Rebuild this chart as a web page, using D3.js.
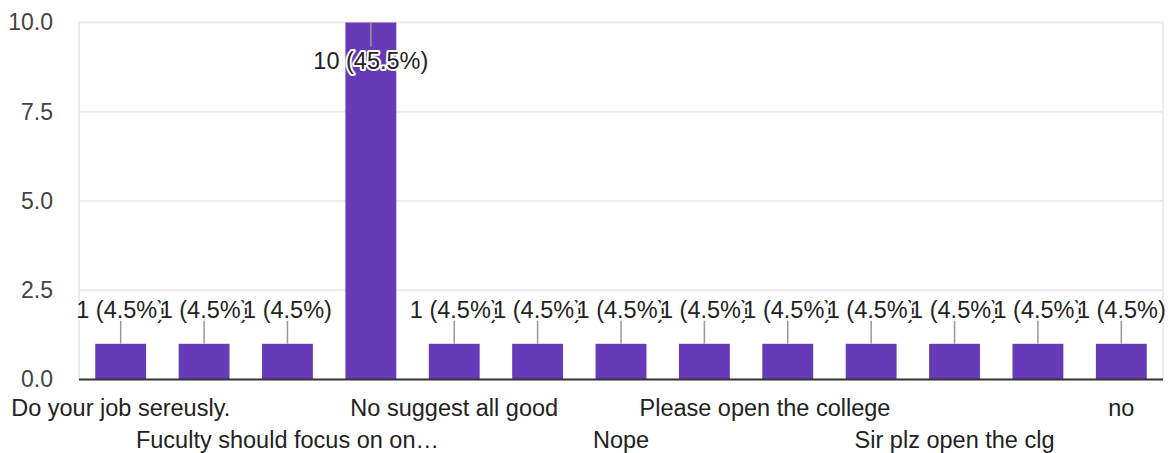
<!DOCTYPE html>
<html>
<head>
<meta charset="utf-8">
<script src="https://cdn.jsdelivr.net/npm/d3@7"></script>
<style>
  html, body { margin: 0; padding: 0; background: #fff; }
  svg text { font-family: "Liberation Sans", Arial, sans-serif; white-space: pre; }
</style>
</head>
<body>
<svg id="chart" width="1172" height="453"></svg>
<script>
// ---- data ----
const categories = [
  "Do your job sereusly.",
  "Good",
  "Fuculty should focus on on\u2026",
  "No",
  "No suggest all good",
  "None",
  "Nope",
  "Nothing",
  "Please open the college       ",
  "Please start offline classes",
  "Sir plz open the clg",
  "Thank you",
  "no"
];
const counts = [1, 1, 1, 10, 1, 1, 1, 1, 1, 1, 1, 1, 1];
const total = 22;
const yTicks = [0, 2.5, 5, 7.5, 10];

(function () {
// ---- layout ----
const svg = d3.select("#chart");
const pLeft = 79, pRight = 1163, pTop = 22.5, pBottom = 379.5;
const fontSize = 23.5;

const x = d3.scaleBand().domain(categories).range([pLeft, pRight])
  .paddingInner(0.39).paddingOuter(0.195);
const y = d3.scaleLinear().domain([0, 10]).range([pBottom, pTop]);

// gridlines
svg.append("g").selectAll("line").data(yTicks.filter(t => t > 0)).join("line")
  .attr("x1", pLeft).attr("x2", pRight)
  .attr("y1", d => y(d)).attr("y2", d => y(d))
  .attr("stroke", "#ebebeb").attr("stroke-width", 2);
// plot side borders
svg.append("g").selectAll("line").data([pLeft, pRight]).join("line")
  .attr("x1", d => d).attr("x2", d => d)
  .attr("y1", pTop).attr("y2", pBottom)
  .attr("stroke", "#ebebeb").attr("stroke-width", 2);

// y axis labels
const yAxis = d3.axisLeft(y).tickValues(yTicks).tickFormat(d3.format(".1f")).tickSize(0).tickPadding(26);
const yg = svg.append("g").attr("transform", `translate(${pLeft},0)`).call(yAxis);
yg.select(".domain").remove();
yg.selectAll("text").attr("font-size", 23).attr("fill", "#444")
  .attr("font-family", "Liberation Sans, Arial, sans-serif");

// bars
svg.append("g").selectAll("rect").data(categories).join("rect")
  .attr("x", d => x(d))
  .attr("width", x.bandwidth())
  .attr("y", (d, i) => y(counts[i]))
  .attr("height", (d, i) => pBottom - y(counts[i]))
  .attr("fill", "#673ab7");

// baseline
svg.append("line").attr("x1", pLeft).attr("x2", pRight)
  .attr("y1", pBottom).attr("y2", pBottom)
  .attr("stroke", "#333").attr("stroke-width", 2);

// x axis labels (every other, alternating rows)
const xAxis = d3.axisBottom(x).tickSize(0).tickPadding(0)
  .tickFormat((d, i) => i % 2 === 0 ? d : "");
const xg = svg.append("g").attr("transform", `translate(0,${pBottom})`).call(xAxis);
xg.select(".domain").remove();
xg.selectAll("text")
  .attr("font-size", fontSize).attr("fill", "#222")
  .attr("font-family", "Liberation Sans, Arial, sans-serif")
  .attr("dy", null)
  .attr("y", (d, i) => (i / 2) % 2 === 0 ? 36 : 68);

// data labels with leader lines
const fitsAbove = v => y(v) - 50 > pTop;
const lab = svg.append("g");
categories.forEach((c, i) => {
  const v = counts[i];
  const cx = x(c) + x.bandwidth() / 2;
  const by = y(v);
  const above = fitsAbove(v);
  const ly2 = above ? by - 23 : by + 24;
  lab.append("line").attr("x1", cx).attr("x2", cx).attr("y1", by).attr("y2", ly2)
    .attr("stroke", "#999").attr("stroke-width", 1.5);
});
categories.forEach((c, i) => {
  const v = counts[i];
  const cx = x(c) + x.bandwidth() / 2;
  const by = y(v);
  const above = fitsAbove(v);
  const ty = above ? by - 26 : by + 46;
  const txt = `${v} (${d3.format(".1f")(v / total * 100)}%)`;
  lab.append("text").attr("x", cx).attr("y", ty)
    .attr("text-anchor", "middle").attr("font-size", fontSize)
    .attr("fill", "#222").attr("stroke", "#fff").attr("stroke-width", 4)
    .attr("stroke-linejoin", "round").attr("paint-order", "stroke")
    .text(txt);
});
})();
</script>
</body>
</html>
